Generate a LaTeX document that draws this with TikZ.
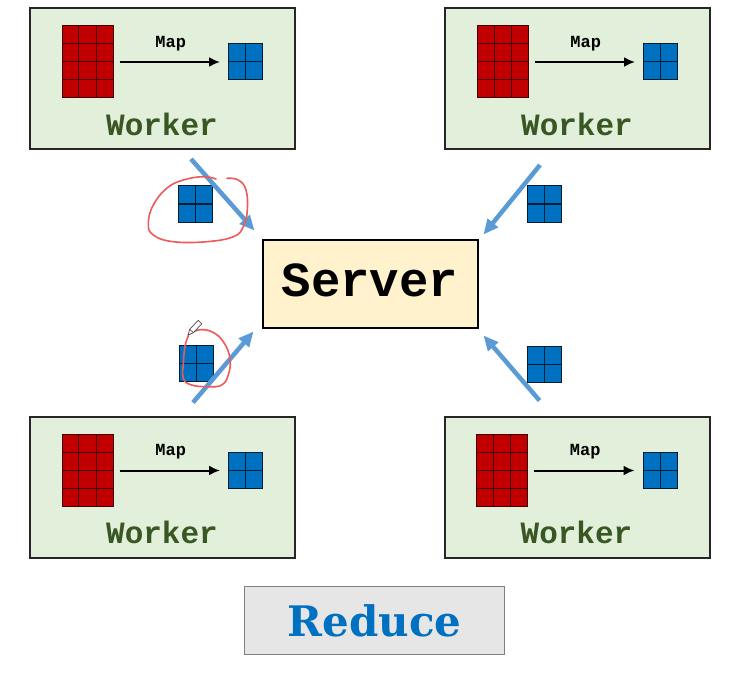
\documentclass[tikz,border=0pt]{standalone}
\usepackage{fontspec}
\newfontfamily\codefont{Liberation Mono}
\newfontfamily\titlefont{DejaVu Serif}
\usetikzlibrary{arrows.meta,positioning,calc}

\definecolor{workerfill}{RGB}{226,239,218}
\definecolor{workertext}{RGB}{56,87,35}
\definecolor{gridred}{RGB}{192,0,0}
\definecolor{gridblue}{RGB}{0,112,192}
\definecolor{serverfill}{RGB}{255,242,204}
\definecolor{reducefill}{RGB}{231,230,230}
\definecolor{sendblue}{RGB}{91,155,213}
\definecolor{inkred}{RGB}{236,90,90}

\tikzset{
    worker/.style = {rectangle, draw=black!85, line width=2pt, fill=workerfill,
                     minimum width=265pt, minimum height=141pt, inner sep=0pt},
    workerlabel/.style = {inner sep=0pt, text=workertext, font=\codefont\bfseries\fontsize{31}{31}\selectfont},
    maplabel/.style = {above=10pt, inner sep=0pt, font=\codefont\bfseries\fontsize{17}{17}\selectfont},
    maparr/.style = {-{Latex[length=11pt,width=10pt]}, line width=2pt, shorten <=6pt, shorten >=8pt},
    redgrid/.style = {rectangle, draw=gridred!35!black, line width=1pt, fill=gridred,
                      minimum width=51pt, minimum height=72pt, inner sep=0pt,
                      path picture={
                        \foreach \f in {0.3333,0.6667}
                          \draw[gridred!35!black, line width=1pt]
                            ($(path picture bounding box.north west)!\f!(path picture bounding box.north east)$) --
                            ($(path picture bounding box.south west)!\f!(path picture bounding box.south east)$);
                        \foreach \f in {0.25,0.5,0.75}
                          \draw[gridred!35!black, line width=1pt]
                            ($(path picture bounding box.north west)!\f!(path picture bounding box.south west)$) --
                            ($(path picture bounding box.north east)!\f!(path picture bounding box.south east)$);
                      }},
    bluegrid/.style = {rectangle, draw=gridblue!25!black, line width=1pt, fill=gridblue,
                       minimum width=34pt, minimum height=36pt, inner sep=0pt,
                       path picture={
                         \draw[gridblue!25!black, line width=1pt]
                           (path picture bounding box.north) -- (path picture bounding box.south)
                           (path picture bounding box.west) -- (path picture bounding box.east);
                       }},
    server/.style = {rectangle, draw=black, line width=2pt, fill=serverfill,
                     minimum width=215pt, minimum height=88pt, text depth=7pt,
                     font=\codefont\bfseries\fontsize{49}{49}\selectfont},
    reduce/.style = {rectangle, draw=black!50, line width=1.2pt, fill=reducefill, text=gridblue,
                     minimum width=260pt, minimum height=68pt,
                     font=\titlefont\bfseries\fontsize{42}{42}\selectfont}
}

\begin{document}
\begin{tikzpicture}[x=1pt, y=-1pt,
        sendarr/.style = {-{Triangle[length=15pt,width=13pt]}, line width=4.5pt, draw=sendblue},
        ink/.style = {draw=inkred, line width=1.6pt, line cap=round, line join=round}
    ]
        \fill[white] (0,0) rectangle (734,674);
        \useasboundingbox (0,0) rectangle (734,674);

        % Top-left worker
        \node[worker] (w1) at (162.5, 78.5) {};
        \node[redgrid]  (r1) at ($(w1.north west)+(58.5,55)$) {};
        \node[bluegrid] (b1) at ($(w1.north west)+(216.5,55)$) {};
        \draw[maparr] (r1.east) -- node[maplabel] (m1) {Map} (b1.west);
        \node[workerlabel] (t1) at ($(w1.north west)+(133,117)$) {Worker};

        % Top-right worker
        \node[worker] (w2) at (577.5, 78.5) {};
        \node[redgrid]  (r2) at ($(w2.north west)+(58.5,55)$) {};
        \node[bluegrid] (b2) at ($(w2.north west)+(216.5,55)$) {};
        \draw[maparr] (r2.east) -- node[maplabel] (m2) {Map} (b2.west);
        \node[workerlabel] (t2) at ($(w2.north west)+(133,117)$) {Worker};

        % Bottom-left worker
        \node[worker] (w3) at (162.5, 487) {};
        \node[redgrid]  (r3) at ($(w3.north west)+(58.5,55)$) {};
        \node[bluegrid] (b3) at ($(w3.north west)+(216.5,55)$) {};
        \draw[maparr] (r3.east) -- node[maplabel] (m3) {Map} (b3.west);
        \node[workerlabel] (t3) at ($(w3.north west)+(133,117)$) {Worker};

        % Bottom-right worker
        \node[worker] (w4) at (577, 487) {};
        \node[redgrid]  (r4) at ($(w4.north west)+(58.5,55)$) {};
        \node[bluegrid] (b4) at ($(w4.north west)+(216.5,55)$) {};
        \draw[maparr] (r4.east) -- node[maplabel] (m4) {Map} (b4.west);
        \node[workerlabel] (t4) at ($(w4.north west)+(133,117)$) {Worker};

        % Server and Reduce
        \node[server] (srv) at (370, 283.5) {Server};
        \node[reduce] (red) at (374.5, 620.5) {Reduce};

        % Sent results
        \node[bluegrid] (s1) at (195.5, 204) {};
        \node[bluegrid] (s2) at (544, 204) {};
        \node[bluegrid] (s3) at (196, 363.5) {};
        \node[bluegrid] (s4) at (544, 364) {};

        % Arrows to the server
        \draw[sendarr] ($(w1.south)+(28.5,9)$) -- ($(srv.north west)+(-7,-8)$);
        \draw[sendarr] ($(w2.south)+(-37.5,15)$) -- ($(srv.north east)+(5,-4)$);
        \draw[sendarr] ($(w3.north)+(30.5,-13)$) -- ($(srv.south west)+(-8,3)$);
        \draw[sendarr] ($(w4.north)+(-37.5,-15)$) -- ($(srv.south east)+(5,7)$);

        % Hand-drawn marks
        \draw[ink] plot[smooth, tension=0.7] coordinates {(227,178.3) (238.3,180) (246,190) (247.3,210)
            (243.3,226.7) (233.3,236.7) (206.7,241.7) (173.3,241.7) (153.3,235) (148.3,223.3)
            (153.3,205) (166.7,188.3) (183.3,180) (203.3,176.7) (216,179)};
        \draw[ink] plot[smooth, tension=0.7] coordinates {(188.3,335) (198.3,330) (211.7,331.7) (223.3,341.7)
            (230,358.3) (228.3,375) (221.7,385) (208.3,386.7) (191.7,385) (183.3,378.3)
            (183.5,362) (185,346) (188.3,336)};
        \draw[black!70, fill=white, line width=0.7pt, line join=round]
            (188,335) -- (193.3,332.7) -- (201.8,323.7) -- (198.2,320.3) -- (189.7,329.3) -- cycle;
        \draw[black!70, line width=0.7pt] (189.7,329.3) -- (193.3,332.7);

    \end{tikzpicture}
\end{document}
